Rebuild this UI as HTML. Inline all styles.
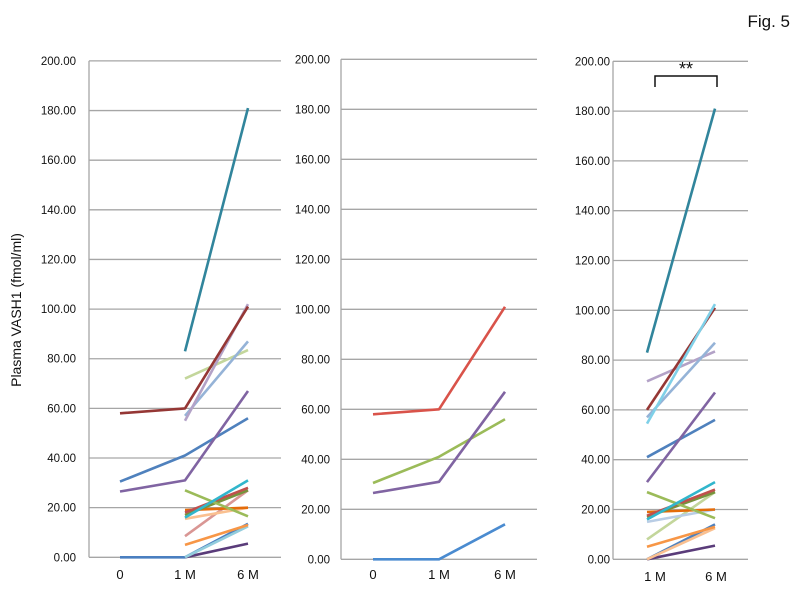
<!DOCTYPE html>
<html><head><meta charset="utf-8"><style>
body{margin:0;background:#fff}
svg{display:block;font-family:"Liberation Sans",sans-serif}
.t{font-size:11.5px;fill:#111;text-anchor:end}
.x{font-size:13px;fill:#111;text-anchor:middle}
</style></head><body>
<svg id="s" width="800" height="589" viewBox="0 0 800 589">
<text x="790" y="27" font-size="17" text-anchor="end" fill="#111">Fig. 5</text>
<text transform="translate(21,310) rotate(-90)" font-size="14" text-anchor="middle" fill="#111">Plasma VASH1 (fmol/ml)</text>
<g id="g"></g>
<g class="t">
<text x="76" y="65">200.00</text><text x="76" y="164">180.00</text><text x="76" y="164.5" opacity="0"></text>
</g>
<g id="labels"></g>
<text x="120" y="579" class="x">0</text><text x="185" y="579" class="x">1 M</text><text x="248" y="579" class="x">6 M</text>
<text x="373" y="579" class="x">0</text><text x="439" y="579" class="x">1 M</text><text x="505" y="579" class="x">6 M</text>
<text x="655" y="581" class="x">1 M</text><text x="716" y="581" class="x">6 M</text>
<path d="M655 87 V76 H717 V87" fill="none" stroke="#111" stroke-width="1.5"/>
<text x="686" y="75" font-size="18" text-anchor="middle" fill="#111">**</text>
</svg>
<script>
const NS="http://www.w3.org/2000/svg",g=document.getElementById("g");
function el(t,a){const e=document.createElementNS(NS,t);for(const k in a)e.setAttribute(k,a[k]);g.appendChild(e);return e;}
const panels=[
 {l:89,r:281,y0:557.3,u:2.482,xs:[120,185,248],lx:76,data:[
 ["#4a7fc0",[0,0,13.5]],["#5a3c7a",[null,0,5.5]],["#93cddd",[null,0,12.5]],["#f79646",[null,5,13]],
 ["#d99694",[null,8.5,27]],["#fac090",[null,15.5,20]],["#e46c0a",[null,19,20]],["#77933c",[null,17,27]],
 ["#c0504d",[null,18,28]],["#9bbb59",[null,27,16.5]],["#31b6cc",[null,16,31]],
 ["#4f81bd",[30.5,41,56]],["#8064a2",[26.5,31,67]],["#c3d69b",[null,72,83.5]],["#95b3d7",[null,57,87]],
 ["#b3a2c7",[null,55,102]],["#953735",[58,60,101]],["#31859c",[null,83,181]]]},
 {l:341,r:537,y0:559.3,u:2.5,xs:[373,439,505],lx:330,data:[
 ["#4a8bd0",[0,0,14]],["#9bbb59",[30.5,41,56]],["#8064a2",[26.5,31,67]],["#d9534a",[58,60,101]]]},
 {l:613,r:748,y0:559.3,u:2.49,xs:[null,647,715],lx:610,data:[
 ["#5a3c7a",[null,0,5.5]],["#4f81bd",[null,0,14]],["#fac090",[null,0,12.5]],["#f79646",[null,5,13]],
 ["#c3d69b",[null,8,27]],["#b9cde5",[null,15,20]],["#e46c0a",[null,19,20]],["#77933c",[null,17,27]],
 ["#c0504d",[null,17.5,28]],["#9bbb59",[null,27,16.5]],["#31b6cc",[null,16,31]],
 ["#4f81bd",[null,41,56]],["#8064a2",[null,31,67]],["#b3a2c7",[null,71.5,83.5]],["#95b3d7",[null,57,87]],
 ["#953735",[null,60,101]],["#7fd0e8",[null,54.5,102.5]],["#31859c",[null,83,181]]]}
];
const lab=document.getElementById("labels");
panels.forEach(p=>{
 for(let v=0;v<=200;v+=20){const y=p.y0-v*p.u;
  el("line",{x1:p.l,x2:p.r,y1:y,y2:y,stroke:"#a6a6a6","stroke-width":1.3});
  const t=document.createElementNS(NS,"text");t.setAttribute("x",p.lx);t.setAttribute("y",y+4);
  t.setAttribute("class","t");t.textContent=v.toFixed(2);lab.appendChild(t);}
 el("line",{x1:p.l,x2:p.l,y1:p.y0-200*p.u,y2:p.y0,stroke:"#a6a6a6","stroke-width":1.3});
 p.data.forEach(([c,vals])=>{const pts=[];vals.forEach((v,i)=>{if(v!==null)pts.push(p.xs[i]+","+(p.y0-v*p.u).toFixed(1));});
  el("polyline",{points:pts.join(" "),fill:"none",stroke:c,"stroke-width":2.6,"stroke-linejoin":"round"});});
});
document.querySelectorAll("g.t text").forEach(t=>t.remove());
</script>
</body></html>
